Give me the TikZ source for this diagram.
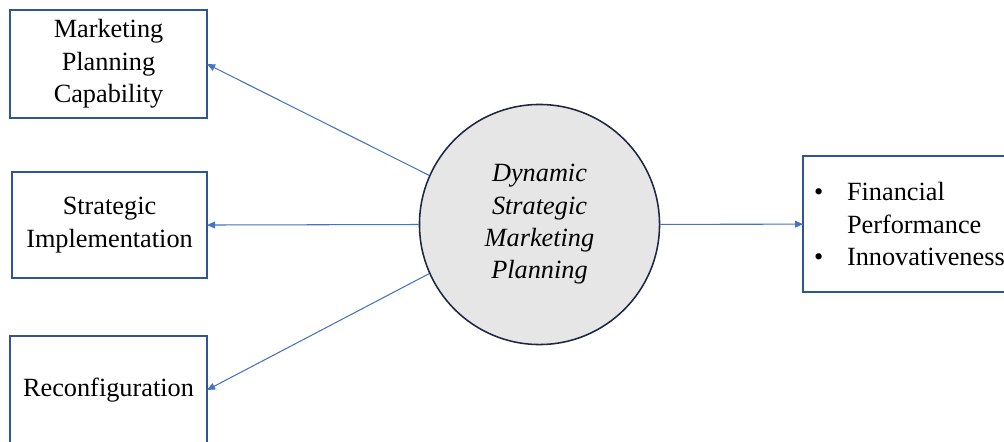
\documentclass[tikz,border=0pt]{standalone}
\usepackage{fontspec}
\setmainfont{Liberation Serif}
\usetikzlibrary{positioning, arrows.meta}
\definecolor{boxblue}{HTML}{2F5597}
\definecolor{linkblue}{HTML}{4472C4}
\definecolor{ringnavy}{HTML}{1F2740}
\definecolor{discgray}{HTML}{E6E6E6}

\begin{document}
\begin{tikzpicture}[x=0.025cm, y=-0.025cm,
  font=\fontsize{18.7}{23}\selectfont,
  factor/.style={draw=boxblue, line width=1.1pt, align=center,
    inner sep=0pt, outer sep=0pt,
    minimum width=4.925cm, minimum height=2.7cm},
  core/.style={circle, draw=ringnavy, line width=1.1pt, fill=discgray,
    minimum size=6cm, inner sep=0pt, align=center,
    font=\fontsize{18.7}{23}\selectfont\itshape},
  link/.style={draw=linkblue, line width=0.75pt,
    -{Triangle[length=0.2cm, width=0.17cm]}}]
  \clip (0,0) rectangle (1004,441);

  % left boxes
  \node[factor, anchor=north west] (mpc) at (10,10)
    {Marketing\\Planning\\Capability};
  \node[factor, anchor=north west, minimum width=4.875cm,
    minimum height=2.65cm] (si) at (12,172) {Strategic\\Implementation};
  \node[factor] (rec) at (108.5,390) {Reconfiguration};

  % centre circle
  \node[core] (dsmp) at (539.5,224.5)
    {Dynamic\\Strategic\\Marketing\\Planning};

  % outcome box, runs past the right edge
  \node[factor, anchor=north west, align=left, minimum height=3.4cm,
    text width=5.45cm, inner xsep=0.275cm] (out) at (803,156)
    {\makebox[0.825cm][l]{\textbullet}Financial\\
     \hspace*{0.825cm}Performance\\
     \makebox[0.825cm][l]{\textbullet}Innovativeness};

  % arrows
  \foreach \ang/\to in {156/mpc, 180/si, 204/rec}
    \draw[link] (dsmp.\ang) -- (\to.east);
  \draw[link] (dsmp) -- (out);
\end{tikzpicture}
\end{document}
